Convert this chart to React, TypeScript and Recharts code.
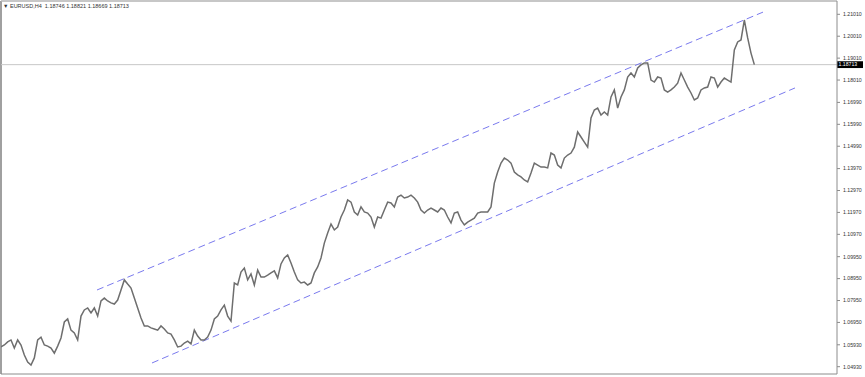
import { ComposedChart, Line, XAxis, YAxis, ReferenceLine } from "recharts"

// EURUSD H4 closes left to right
const closes = [
  1.0583, 1.0592, 1.0606, 1.0615, 1.0578, 1.0615, 1.0592, 1.0546, 1.0514, 1.0501,
  1.0533, 1.0615, 1.0628, 1.0592, 1.0587, 1.0578, 1.0555, 1.0587, 1.0624, 1.0697,
  1.0711, 1.066, 1.0647, 1.0615, 1.0724, 1.0752, 1.0761, 1.0738, 1.0761, 1.0724,
  1.0793, 1.0806, 1.0793, 1.0784, 1.0779, 1.0797, 1.0843, 1.0889, 1.087, 1.0852,
  1.0806, 1.0761, 1.0715, 1.0679, 1.0679, 1.067, 1.0665, 1.066, 1.0679, 1.0665,
  1.0647, 1.0642, 1.0615, 1.0583, 1.0587, 1.0601, 1.061, 1.0597, 1.066, 1.0633,
  1.0615, 1.0615, 1.0628, 1.066, 1.0711, 1.0724, 1.0752, 1.0774, 1.0724, 1.0701,
  1.0875, 1.0866, 1.0925, 1.0943, 1.0889, 1.0916, 1.0866, 1.0934, 1.0902, 1.0902,
  1.0911, 1.0921, 1.093, 1.0898, 1.0962, 1.0989, 1.1003, 1.0966, 1.0925, 1.0889,
  1.0875, 1.0879, 1.0866, 1.0875, 1.0921, 1.0948, 1.0989, 1.1057, 1.1103, 1.1144,
  1.1117, 1.113, 1.1176, 1.1208, 1.1254, 1.1244, 1.1199, 1.1185, 1.1222, 1.1199,
  1.1194, 1.1176, 1.113, 1.1176, 1.1171, 1.1208, 1.1244, 1.124, 1.1222, 1.1267,
  1.1276, 1.1263, 1.1267, 1.1276, 1.1263, 1.1244, 1.1208, 1.1194, 1.1208, 1.1217,
  1.1208, 1.1199, 1.1217, 1.1208, 1.1176, 1.1149, 1.1194, 1.1199, 1.1162, 1.114,
  1.1153, 1.1162, 1.1171, 1.1194, 1.1199, 1.1199, 1.1199, 1.1222, 1.1331, 1.1381,
  1.1422, 1.1445, 1.1436, 1.1422, 1.1381, 1.1368, 1.1359, 1.1345, 1.1336, 1.1377,
  1.1422, 1.1413, 1.1404, 1.1404, 1.14, 1.1468, 1.1459, 1.1413, 1.14, 1.1445,
  1.1459, 1.1468, 1.1495, 1.1564, 1.1541, 1.1518, 1.1495, 1.1628, 1.1664, 1.1673,
  1.1641, 1.1655, 1.1641, 1.1724, 1.1756, 1.1673, 1.1724, 1.1756, 1.1815, 1.1833,
  1.1815, 1.1856, 1.187, 1.1879, 1.1879, 1.1801, 1.1792, 1.1815, 1.181, 1.1756,
  1.1746, 1.1756, 1.1769, 1.1787, 1.1833, 1.1801, 1.1769, 1.1742, 1.171, 1.1719,
  1.1756, 1.1765, 1.1769, 1.1815, 1.181, 1.1769, 1.1792, 1.181, 1.1801, 1.1792,
  1.1938, 1.1975, 1.1984, 1.2075, 1.1993, 1.1924, 1.18713,
]

const priceTicks = [
  1.0493, 1.0593, 1.0695, 1.0795, 1.0895, 1.0995, 1.1097, 1.1197, 1.1297,
  1.1397, 1.1499, 1.1599, 1.1699, 1.1801, 1.1901, 1.2001, 1.2101,
]

// one tick every 13 bars on the time scale
const timeTicks = [0, 13, 26, 39, 52, 65, 78, 91, 104, 117, 130, 143, 156, 169, 182, 195, 208, 221]

// channel end points [bar, price]
const upperChannel = [[28.8, 1.0843], [228.6, 1.2111]]
const lowerChannel = [[45.3, 1.051], [238.2, 1.1765]]

const lastPrice = 1.18713
const title = "EURUSD,H4  1.18746 1.18821 1.18669 1.18713"

const data = closes.map((close, i) => ({ bar: i, close }))

const font = "'Liberation Sans', Arial, sans-serif"

function PriceTag(props: any) {
  const { viewBox } = props
  if (!viewBox) return null
  const x = viewBox.x + viewBox.width
  const y = viewBox.y
  return (
    <g>
      <rect x={x} y={y - 3.4} width={26} height={6.8} fill="#000" />
      <text x={x + 1.5} y={y} dy="0.355em" fontSize={5.2} fontFamily={font} fill="#fff">
        {lastPrice.toFixed(5)}
      </text>
    </g>
  )
}

export default function App() {
  return (
    <div style={{ position: "relative", width: 865, height: 377, background: "#fff" }}>
      <style>{`body{margin:0}`}</style>
      <ComposedChart width={865} height={377} data={data} margin={{ top: 1, right: 0, bottom: 0, left: 1 }}>
        <XAxis
          type="number"
          dataKey="bar"
          domain={[0, 250.8]}
          allowDataOverflow
          ticks={timeTicks}
          tick={false}
          tickSize={3}
          height={3}
          axisLine={{ stroke: "#8c8c8c" }}
          tickLine={{ stroke: "#8c8c8c" }}
        />
        <YAxis
          orientation="right"
          domain={[1.04597, 1.21617]}
          allowDataOverflow
          ticks={priceTicks}
          interval={0}
          width={28}
          tickSize={3}
          tickMargin={3}
          tickFormatter={(v: number) => v.toFixed(5)}
          tick={{ fontSize: 5.2, fontFamily: font, fill: "#333", textAnchor: "start" }}
          axisLine={{ stroke: "#8c8c8c" }}
          tickLine={{ stroke: "#8c8c8c" }}
        />
        <ReferenceLine x={0} stroke="#a0a0a0" strokeWidth={2} />
        <ReferenceLine y={1.21617} stroke="#b4b4b4" strokeWidth={1.5} />
        <ReferenceLine y={lastPrice} stroke="#c8c8c8" label={<PriceTag />} />
        <ReferenceLine
          segment={upperChannel.map(([x, y]) => ({ x, y }))}
          stroke="#7a7aee"
          strokeDasharray="7 4"
          ifOverflow="visible"
        />
        <ReferenceLine
          segment={lowerChannel.map(([x, y]) => ({ x, y }))}
          stroke="#7a7aee"
          strokeDasharray="7 4"
          ifOverflow="visible"
        />
        <Line
          type="linear"
          dataKey="close"
          stroke="#6e6e6e"
          strokeWidth={1.5}
          dot={false}
          isAnimationActive={false}
        />
      </ComposedChart>
      <div
        style={{
          position: "absolute",
          left: 3,
          top: 3,
          fontSize: 5.5,
          fontFamily: font,
          color: "#333",
          whiteSpace: "pre",
          lineHeight: "7px",
        }}
      >
        {"\u25BC " + title}
      </div>
    </div>
  )
}
